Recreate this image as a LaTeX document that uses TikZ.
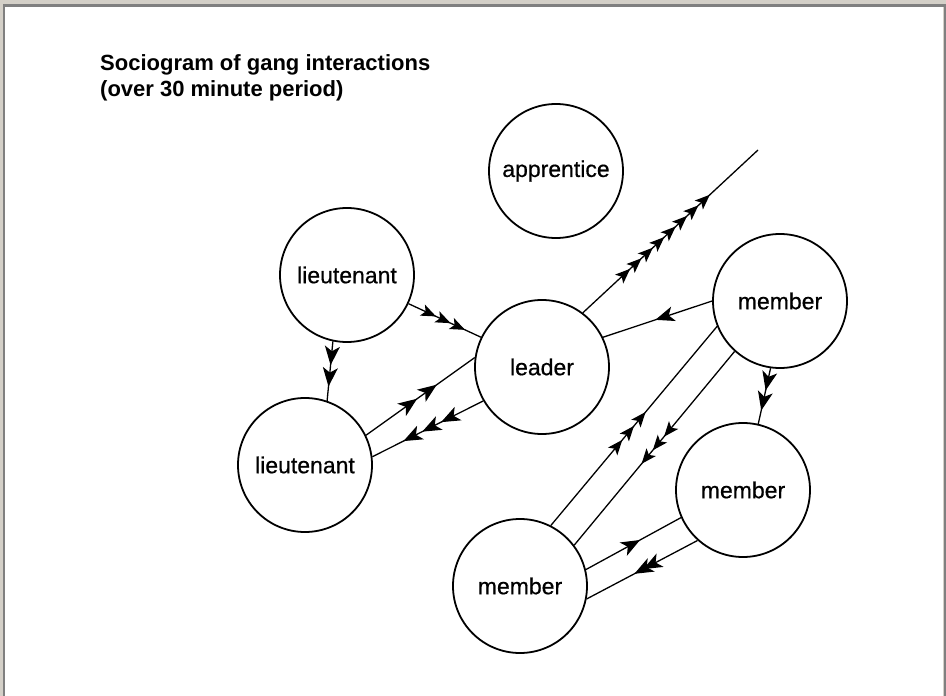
\documentclass[tikz,border=0pt]{standalone}
\usepackage{fontspec}
\setmainfont{Liberation Sans}
\newfontfamily\nodefont{Liberation Sans}[FakeBold=0.6]
\usetikzlibrary{arrows.meta,decorations.markings}
\definecolor{framelight}{HTML}{D4D0C8}
\definecolor{framedark}{HTML}{808080}
\tikzset{
  person/.style={circle,draw,line width=1.8pt,minimum size=134pt,inner sep=0pt,
    font=\nodefont\fontsize{23}{26}\selectfont},
  link/.style={line width=1.3pt},
  hd/.tip={Stealth[length=15pt,width=12pt,inset=3.5pt]},
  hdL/.tip={Stealth[length=19pt,width=15pt,inset=5pt]},
  titletext/.style={anchor=base west,inner sep=0pt,font=\bfseries\fontsize{22}{24}\selectfont},
}
\begin{document}
\begin{tikzpicture}[x=1pt,y=-1pt]
\useasboundingbox (0,0) rectangle (946,696);
% window frame
\fill[framelight] (0,0) rectangle (946,4);
\fill[framelight] (0,0) rectangle (3,696);
\fill[framedark] (3,4) rectangle (946,6.5);
\fill[framedark] (3,4) rectangle (5,696);
\fill[framelight] (942.5,6.5) rectangle (944,696);
\fill[framedark] (944,4) rectangle (946,696);

% title
\node[titletext] (t1) at (100,70) {Sociogram of gang interactions};
\node[titletext] (t2) at (100,96) {(over 30 minute period)};

% people
\node[person] (appr) at (556,171) {apprentice};
\node[person] (ltA) at (347,275) {lieutenant};
\node[person] (ltB) at (305,465) {lieutenant};
\node[person] (ld) at (542,367) {leader};
\node[person] (mA) at (780,301) {member};
\node[person] (mB) at (743,490) {member};
\node[person] (mC) at (520,586) {member};
\coordinate (out) at (758,150);

% lieutenant (top) -> leader
\draw[link,postaction={decorate},decoration={markings,
  mark=at position 0.38 with {\arrow{hd}},
  mark=at position 0.58 with {\arrow{hd}},
  mark=at position 0.78 with {\arrow{hd}}}]
  (ltA.-25.5) -- (ld.154);
% lieutenant (top) -> lieutenant (bottom)
\draw[link,postaction={decorate},decoration={markings,
  mark=at position 0.40 with {\arrow{hdL}},
  mark=at position 0.76 with {\arrow{hdL}}}]
  (ltA.-102.6) -- (ltB.71.8);
% lieutenant (bottom) -> leader
\draw[link,postaction={decorate},decoration={markings,
  mark=at position 0.47 with {\arrow{hdL}},
  mark=at position 0.65 with {\arrow{hdL}}}]
  (ltB.26.9) -- (ld.172.6);
% leader -> lieutenant (bottom)
\draw[link,postaction={decorate},decoration={markings,
  mark=at position 0.38 with {\arrow{hdL}},
  mark=at position 0.55 with {\arrow{hdL}},
  mark=at position 0.72 with {\arrow{hdL}}}]
  (ld.-150.6) -- (ltB.7.4);
% leader -> outside
\draw[link,postaction={decorate},decoration={markings,
  mark=at position 0.27 with {\arrow{hd}},
  mark=at position 0.335 with {\arrow{hd}},
  mark=at position 0.40 with {\arrow{hd}},
  mark=at position 0.465 with {\arrow{hd}},
  mark=at position 0.53 with {\arrow{hd}},
  mark=at position 0.595 with {\arrow{hd}},
  mark=at position 0.66 with {\arrow{hd}},
  mark=at position 0.725 with {\arrow{hd}}}]
  (ld.53.3) -- (out);
% member (top) -> leader
\draw[link,postaction={decorate},decoration={markings,
  mark=at position 0.52 with {\arrow{hdL}}}]
  (mA.180.8) -- (ld.26.2);
% member (top) -> member (middle)
\draw[link,postaction={decorate},decoration={markings,
  mark=at position 0.40 with {\arrow{hdL}},
  mark=at position 0.76 with {\arrow{hdL}}}]
  (mA.-98.5) -- (mB.77.6);
% member (bottom) -> member (top)
\draw[link,postaction={decorate},decoration={markings,
  mark=at position 0.43 with {\arrow{hd}},
  mark=at position 0.50 with {\arrow{hd}},
  mark=at position 0.57 with {\arrow{hd}}}]
  (mC.63) -- (mA.-158.8);
% member (top) -> member (bottom)
\draw[link,postaction={decorate},decoration={markings,
  mark=at position 0.44 with {\arrow{hd}},
  mark=at position 0.51 with {\arrow{hd}},
  mark=at position 0.58 with {\arrow{hd}}}]
  (mA.-132.7) -- (mC.37);
% member (bottom) -> member (middle)
\draw[link,postaction={decorate},decoration={markings,
  mark=at position 0.57 with {\arrow{hdL}}}]
  (mC.14.8) -- (mB.-156.4);
% member (middle) -> member (bottom)
\draw[link,postaction={decorate},decoration={markings,
  mark=at position 0.49 with {\arrow{hdL}},
  mark=at position 0.57 with {\arrow{hdL}}}]
  (mB.-132) -- (mC.-11.6);
\end{tikzpicture}
\end{document}
